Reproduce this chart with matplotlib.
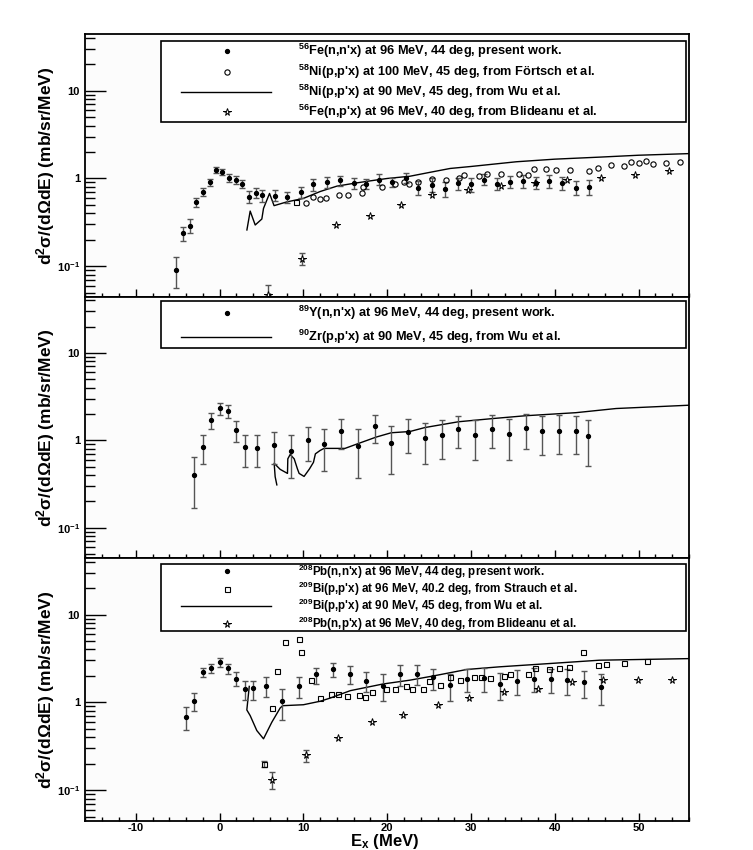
import matplotlib
matplotlib.use("Agg")
import matplotlib.pyplot as plt
import numpy as np
from matplotlib.patches import Rectangle
from matplotlib.ticker import FixedLocator, FuncFormatter, LogLocator, MultipleLocator, NullFormatter

plt.rcParams["font.family"] = ["Liberation Sans", "DejaVu Sans"]
plt.rcParams["font.weight"] = "bold"
plt.rcParams["mathtext.fontset"] = "custom"
plt.rcParams["mathtext.rm"] = "Liberation Sans:bold"
plt.rcParams["mathtext.it"] = "Liberation Sans:bold:italic"
plt.rcParams["mathtext.bf"] = "Liberation Sans:bold"
plt.rcParams["mathtext.default"] = "rm"

# ---- top panel: 56Fe / 58Ni ----
fe_e = [-5.15, -4.36, -3.56, -2.77, -1.98, -1.19, -0.39, 0.32, 1.10, 1.90, 2.70, 3.50, 4.29,
        5.04, 6.60, 8.10, 9.70, 11.2, 12.8, 14.4, 16.0, 17.5, 19.0, 20.6, 22.2, 23.7, 25.3,
        26.9, 28.4, 30.0, 31.5, 33.1, 34.7, 36.2, 37.8, 39.3, 40.9, 42.5, 44.1]
fe_v = [0.091, 0.237, 0.29, 0.533, 0.705, 0.908, 1.24, 1.17, 1.0, 0.958, 0.855, 0.62, 0.687,
        0.641, 0.636, 0.608, 0.705, 0.855, 0.917, 0.95, 0.885, 0.875, 0.966, 0.917, 1.01, 0.78,
        0.84, 0.756, 0.89, 0.855, 0.966, 0.87, 0.917, 0.93, 0.885, 0.93, 0.89, 0.78, 0.80]
fe_hi = [0.126, 0.277, 0.342, 0.593, 0.784, 0.99, 1.36, 1.27, 1.11, 1.07, 0.95, 0.718, 0.77,
         0.73, 0.73, 0.705, 0.80, 0.98, 1.04, 1.07, 1.0, 0.98, 1.11, 1.02, 1.15, 0.93,
         1.0, 0.917, 1.02, 1.0, 1.11, 1.0, 1.07, 1.09, 1.04, 1.09, 1.04, 0.93, 0.957]
fe_lo = [0.057, 0.196, 0.237, 0.468, 0.636, 0.826, 1.14, 1.09, 0.90, 0.87, 0.77, 0.53, 0.593,
         0.543, 0.552, 0.52, 0.60, 0.725, 0.784, 0.818, 0.757, 0.757, 0.84, 0.79, 0.89, 0.646,
         0.705, 0.62, 0.736, 0.705, 0.84, 0.736, 0.77, 0.784, 0.757, 0.784, 0.736, 0.646, 0.646]

fortsch_e = [9.13, 10.3, 11.1, 12.0, 12.7, 14.2, 15.3, 17.0, 17.1, 19.4, 20.9, 22.0, 22.6,
             23.7, 25.4, 27.0, 28.6, 29.1, 31.0, 31.9, 33.6, 35.7, 36.8, 37.5, 39.0, 40.1,
             41.8, 44.1, 45.1, 46.7, 48.3, 49.05, 50.0, 50.9, 51.7, 53.3, 54.9]
fortsch_v = [0.533, 0.53, 0.61, 0.577, 0.60, 0.65, 0.65, 0.687, 0.80, 0.79, 0.855, 0.90, 0.855,
             0.90, 0.98, 0.966, 1.02, 1.09, 1.07, 1.13, 1.13, 1.12, 1.10, 1.29, 1.28, 1.25,
             1.24, 1.23, 1.33, 1.42, 1.39, 1.53, 1.52, 1.60, 1.48, 1.50, 1.56]

fe_np_e = [5.8, 9.8, 13.86, 17.9, 21.7, 25.4, 29.6, 33.6, 37.6, 41.5, 45.5, 49.6, 53.6]
fe_np_v = [0.047, 0.121, 0.295, 0.373, 0.497, 0.646, 0.736, 0.818, 0.88, 0.95, 1.02, 1.09, 1.22]
fe_np_hi = [0.061, 0.14, 0.295, 0.373, 0.497, 0.646, 0.736, 0.818, 0.88, 0.95, 1.02, 1.09, 1.22]
fe_np_lo = [0.040, 0.102, 0.295, 0.373, 0.497, 0.646, 0.736, 0.818, 0.88, 0.95, 1.02, 1.09, 1.22]

ni_wu_e = [3.26, 3.65, 4.25, 5.04, 5.24, 5.96, 6.5, 8.0, 10.0, 12.0, 14.0, 16.0, 18.0, 20.0,
           22.7, 25.0, 27.5, 30.0, 35.4, 40.0, 45.3, 50.0, 56.0]
ni_wu_v = [0.259, 0.425, 0.295, 0.345, 0.456, 0.675, 0.49, 0.54, 0.593, 0.71, 0.818, 0.88, 0.94,
           1.0, 1.06, 1.17, 1.30, 1.37, 1.55, 1.66, 1.75, 1.84, 1.92]

# ---- middle panel: 89Y / 90Zr ----
y_e = [-3, -2, -1, 0, 1, 2, 3, 4.5, 6.5, 8.5, 10.5, 12.5, 14.5, 16.5, 18.5, 20.5, 22.5, 24.5,
       26.5, 28.5, 30.5, 32.5, 34.5, 36.5, 38.5, 40.5, 42.5, 44.0]
y_v = [0.404, 0.845, 1.69, 2.33, 2.17, 1.32, 0.83, 0.81, 0.89, 0.75, 1.01, 0.90, 1.27, 0.86,
       1.44, 0.94, 1.24, 1.05, 1.16, 1.35, 1.16, 1.36, 1.17, 1.39, 1.28, 1.29, 1.29, 1.11]
y_hi = [0.64, 1.14, 2.04, 2.70, 2.56, 1.67, 1.16, 1.14, 1.24, 1.14, 1.43, 1.34, 1.74, 1.34,
        1.96, 1.45, 1.77, 1.57, 1.71, 1.90, 1.72, 1.93, 1.77, 1.99, 1.90, 1.93, 1.90, 1.71]
y_lo = [0.169, 0.54, 1.33, 1.95, 1.78, 0.95, 0.495, 0.49, 0.537, 0.366, 0.587, 0.449, 0.80,
        0.366, 0.93, 0.415, 0.72, 0.54, 0.618, 0.81, 0.603, 0.81, 0.60, 0.80, 0.683, 0.69,
        0.69, 0.504]

zr_wu_e = [6.83, 6.63, 6.51, 7.23, 8.1, 8.14, 8.42, 8.9, 9.29, 9.49, 10.08, 10.72, 11.2, 11.43,
           12.0, 12.46, 14.96, 16.5, 18.7, 20.48, 22.7, 24.5, 28.5, 32.5, 36.5, 42.5, 47.3, 56.0]
zr_wu_v = [0.309, 0.383, 0.546, 0.465, 0.418, 0.614, 0.688, 0.614, 0.47, 0.418, 0.386, 0.47,
           0.56, 0.70, 0.766, 0.808, 0.808, 0.915, 1.09, 1.22, 1.26, 1.40, 1.63, 1.77, 1.91,
           2.07, 2.31, 2.52]

# ---- bottom panel: 208Pb / 209Bi ----
pb_e = [-4, -3, -2, -1, 0, 1, 2, 3, 4, 5.5, 7.5, 9.5, 11.5, 13.5, 15.5, 17.5, 19.5, 21.5,
        23.5, 25.5, 27.5, 29.5, 31.5, 33.5, 35.5, 37.5, 39.5, 41.5, 43.5, 45.5]
pb_v = [0.683, 1.045, 2.23, 2.45, 2.87, 2.45, 1.87, 1.42, 1.47, 1.55, 1.04, 1.54, 2.1, 2.39,
        2.1, 1.76, 1.55, 2.1, 2.1, 1.92, 1.57, 1.84, 1.9, 1.63, 1.77, 1.86, 1.84, 1.78, 1.70,
        1.51]
pb_hi = [0.877, 1.29, 2.49, 2.75, 3.23, 2.75, 2.19, 1.76, 1.77, 1.92, 1.42, 1.92, 2.49, 2.82,
         2.58, 2.24, 2.10, 2.64, 2.65, 2.43, 2.13, 2.37, 2.45, 2.17, 2.33, 2.49, 2.43, 2.39,
         2.29, 2.10]
pb_lo = [0.487, 0.80, 1.92, 2.16, 2.54, 2.12, 1.55, 1.06, 1.07, 1.16, 0.63, 1.12, 1.64, 1.92,
         1.62, 1.30, 1.03, 1.55, 1.57, 1.39, 1.04, 1.30, 1.32, 1.06, 1.21, 1.30, 1.29, 1.22,
         1.11, 0.93]

strauch_e = [5.24, 6.27, 6.9, 7.86, 9.53, 9.76, 10.96, 12.03, 13.34, 14.17, 15.2, 16.6, 17.4,
             18.2, 19.9, 20.96, 22.2, 23.0, 24.3, 25.0, 26.3, 27.46, 28.73, 30.36, 31.2, 32.3,
             33.9, 34.7, 36.8, 37.6, 39.3, 40.5, 41.7, 43.4, 45.2, 46.1, 48.2, 51.0]
strauch_v = [0.20, 0.855, 2.27, 4.83, 5.22, 3.75, 1.79, 1.12, 1.24, 1.24, 1.19, 1.21, 1.15,
             1.30, 1.42, 1.42, 1.55, 1.42, 1.42, 1.76, 1.59, 1.97, 1.79, 1.95, 1.95, 1.91, 2.0,
             2.13, 2.13, 2.49, 2.41, 2.47, 2.54, 3.72, 2.67, 2.71, 2.82, 2.97]
strauch_first_err = [0.185, 0.215]

pb_np_e = [6.23, 10.3, 14.09, 18.14, 21.9, 26.0, 29.8, 33.93, 38.0, 42.07, 45.8, 49.9, 54.0]
pb_np_v = [0.132, 0.249, 0.395, 0.594, 0.726, 0.942, 1.13, 1.33, 1.43, 1.71, 1.79, 1.79, 1.79]
pb_np_hi = [0.161, 0.289, 0.395, 0.594, 0.726, 0.942, 1.13, 1.33, 1.43, 1.71, 1.79, 1.79, 1.79]
pb_np_lo = [0.103, 0.209, 0.395, 0.594, 0.726, 0.942, 1.13, 1.33, 1.43, 1.71, 1.79, 1.79, 1.79]

bi_wu_e = [3.54, 3.25, 3.65, 4.44, 5.24, 6.23, 7.23, 7.54, 10.0, 12.0, 13.2, 15.6, 19.5, 22.7,
           25.5, 29.5, 33.4, 39.4, 45.3, 56.0]
bi_wu_v = [1.52, 0.82, 0.707, 0.478, 0.385, 0.594, 0.864, 0.917, 0.94, 1.03, 1.12, 1.36, 1.62,
           1.79, 2.0, 2.37, 2.54, 2.77, 3.02, 3.15]

x_ticks = [-10, 0, 10, 20, 30, 40, 50]
y_tick_text = {0.1: r"$10^{-1}$", 1.0: "1", 10.0: "10"}

DOT = dict(marker="o", ms=2.8, mfc="black", mec="black", ls="none")
CIRCLE = dict(marker="o", ms=3.8, mfc="none", mec="black", mew=0.8, ls="none")
STAR = dict(marker="*", ms=5.5, mfc="white", mec="black", mew=0.7, ls="none")
SQUARE = dict(marker="s", ms=3.6, mfc="none", mec="black", mew=0.8, ls="none")
ERR = dict(ecolor="#555555", elinewidth=1.0, capsize=2, capthick=1.0)


def points_with_errors(ax, e, v, lo, hi, style):
    e, v, lo, hi = (np.asarray(a, dtype=float) for a in (e, v, lo, hi))
    has_err = (hi - lo) > 0
    if has_err.any():
        ax.errorbar(e[has_err], v[has_err], yerr=[v[has_err] - lo[has_err], hi[has_err] - v[has_err]],
                    fmt="none", zorder=2, **ERR)
    ax.plot(e, v, zorder=3, **style)


def style_axes(ax, show_xlabels):
    ax.set_xlim(-16, 56)
    ax.set_yscale("log")
    ax.set_ylim(0.045, 44)
    ax.xaxis.set_major_locator(FixedLocator(x_ticks))
    ax.xaxis.set_minor_locator(MultipleLocator(2))
    ax.yaxis.set_major_locator(FixedLocator(list(y_tick_text)))
    ax.yaxis.set_minor_locator(LogLocator(base=10, subs=np.arange(2, 10), numticks=20))
    ax.yaxis.set_minor_formatter(NullFormatter())
    ax.yaxis.set_major_formatter(FuncFormatter(lambda val, pos: y_tick_text.get(round(val, 3), "")))
    ax.tick_params(which="both", direction="in", top=False, right=False, width=1.0, color="black")
    ax.tick_params(axis="x", which="major", length=5.5, pad=2, labelsize=8, labelbottom=show_xlabels)
    ax.tick_params(axis="x", which="minor", length=2.8)
    ax.tick_params(axis="y", which="major", length=15, pad=4, labelsize=8)
    ax.tick_params(axis="y", which="minor", length=7.5)
    for sp in ax.spines.values():
        sp.set_linewidth(1.3)
    ax.set_facecolor("#fcfcfc")
    ax.set_ylabel(r"d$^{2}\sigma$/(d$\Omega$dE) (mb/sr/MeV)", fontsize=12.5, fontweight="bold")
    ax.yaxis.set_label_coords(-0.047, 0.5)


def draw_legend(ax, y_bottom, y_top, rows, size=9.2):
    ax.add_patch(Rectangle((0.125, y_bottom), 0.87, y_top - y_bottom, transform=ax.transAxes,
                           facecolor="white", edgecolor="black", lw=1.2, zorder=6))
    for y, handle, label in rows:
        if handle == "line":
            ax.plot([0.158, 0.307], [y, y], transform=ax.transAxes, color="black", lw=1.0, zorder=7)
        else:
            ax.plot([0.234], [y], transform=ax.transAxes, zorder=7, clip_on=False, **handle)
        ax.text(0.352, y, label, transform=ax.transAxes, ha="left", va="center",
                fontsize=size, fontweight="bold", zorder=7)


fig = plt.figure(figsize=(7.53, 8.5), dpi=100)
ax_top = fig.add_axes([0.1135, 0.651, 0.8015, 0.3087])
ax_mid = fig.add_axes([0.1135, 0.3435, 0.8015, 0.3075])
ax_bot = fig.add_axes([0.1135, 0.0345, 0.8015, 0.3090])

# top
ax_top.plot(ni_wu_e, ni_wu_v, color="black", lw=1.0, zorder=2)
ax_top.plot(fortsch_e[1:], fortsch_v[1:], zorder=3, **CIRCLE)
ax_top.plot(fortsch_e[:1], fortsch_v[:1], zorder=3, **SQUARE)
points_with_errors(ax_top, fe_np_e, fe_np_v, fe_np_lo, fe_np_hi, STAR)
points_with_errors(ax_top, fe_e, fe_v, fe_lo, fe_hi, DOT)
style_axes(ax_top, False)
draw_legend(ax_top, 0.665, 0.976, [
    (0.936, DOT, "$^{56}$Fe(n,n'x) at 96 MeV, 44 deg, present work."),
    (0.857, CIRCLE, "$^{58}$Ni(p,p'x) at 100 MeV, 45 deg, from Förtsch et al."),
    (0.781, "line", "$^{58}$Ni(p,p'x) at 90 MeV, 45 deg, from Wu et al."),
    (0.705, STAR, "$^{56}$Fe(n,p'x) at 96 MeV, 40 deg, from Blideanu et al."),
])

# middle
ax_mid.plot(zr_wu_e, zr_wu_v, color="black", lw=1.0, zorder=2)
points_with_errors(ax_mid, y_e, y_v, y_lo, y_hi, DOT)
style_axes(ax_mid, False)
draw_legend(ax_mid, 0.802, 0.983, [
    (0.938, DOT, "$^{89}$Y(n,n'x) at 96 MeV, 44 deg, present work."),
    (0.846, "line", "$^{90}$Zr(p,p'x) at 90 MeV, 45 deg, from Wu et al."),
])

# bottom
ax_bot.plot(bi_wu_e, bi_wu_v, color="black", lw=1.0, zorder=2)
ax_bot.errorbar(strauch_e[:1], strauch_v[:1],
                yerr=[[strauch_v[0] - strauch_first_err[0]], [strauch_first_err[1] - strauch_v[0]]],
                fmt="none", zorder=2, **ERR)
ax_bot.plot(strauch_e, strauch_v, zorder=3, **SQUARE)
points_with_errors(ax_bot, pb_np_e, pb_np_v, pb_np_lo, pb_np_hi, STAR)
points_with_errors(ax_bot, pb_e, pb_v, pb_lo, pb_hi, DOT)
style_axes(ax_bot, True)
ax_bot.set_xticklabels([str(t) for t in x_ticks], fontweight="bold")
ax_bot.set_xlabel(r"E$_{x}$ (MeV)", fontsize=12, fontweight="bold")
ax_bot.xaxis.set_label_coords(0.495, -0.045)
draw_legend(ax_bot, 0.723, 0.979, [
    (0.949, DOT, "$^{208}$Pb(n,n'x) at 96 MeV, 44 deg, present work."),
    (0.883, SQUARE, "$^{209}$Bi(p,p'x) at 96 MeV, 40.2 deg, from Strauch et al."),
    (0.816, "line", "$^{209}$Bi(p,p'x) at 90 MeV, 45 deg, from Wu et al."),
    (0.750, STAR, "$^{208}$Pb(n,p'x) at 96 MeV, 40 deg, from Blideanu et al."),
], size=8.4)

fig.savefig("out.png", dpi=100)
